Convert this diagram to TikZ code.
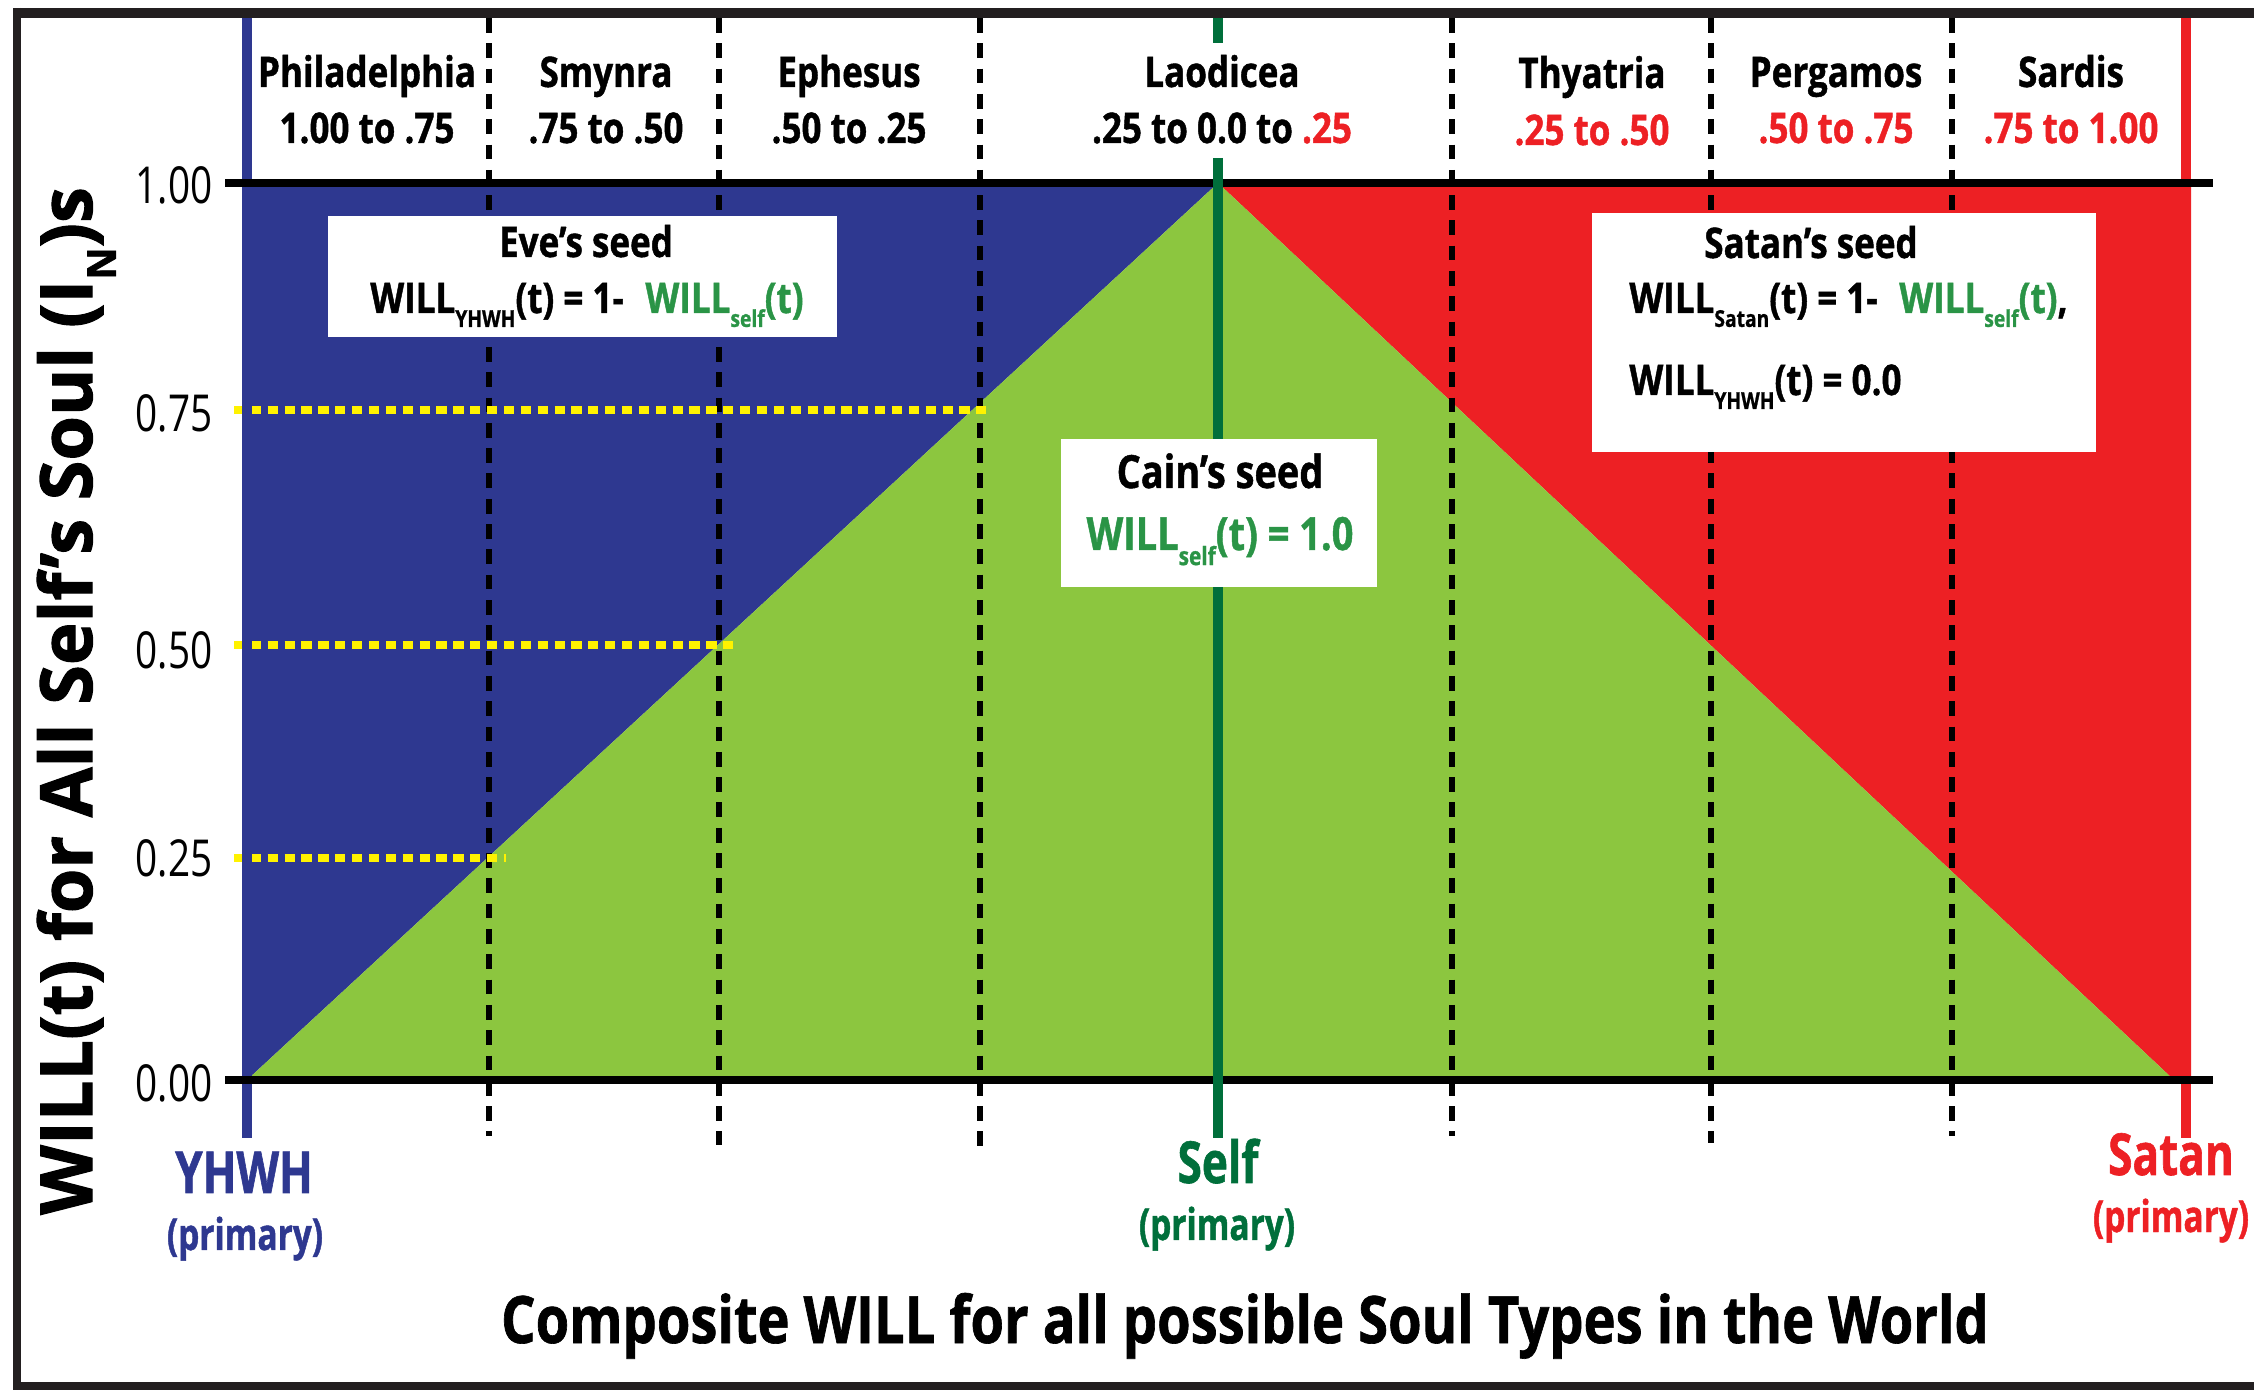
\documentclass[tikz,border=0pt]{standalone}
\usepackage{fontspec}
\setmainfont{Open Sans}[FakeStretch=0.83, BoldFeatures={FakeBold=1}]
\newfontfamily\narrowfont{Open Sans}[FakeStretch=0.76, BoldFeatures={FakeBold=1}]
\newfontfamily\widefont{Open Sans}[BoldFeatures={FakeBold=1.5}]
\usetikzlibrary{positioning}

\definecolor{willblue}{RGB}{46,56,144}
\definecolor{willgreen}{RGB}{140,198,63}
\definecolor{willred}{RGB}{237,32,36}
\definecolor{selfgreen}{RGB}{0,111,59}
\definecolor{formgreen}{RGB}{42,148,70}
\definecolor{markyellow}{RGB}{255,242,0}
\definecolor{framegray}{RGB}{35,31,32}

\newcommand{\willsub}[1]{\raisebox{-0.33em}{\scalebox{0.55}{#1}}}

\tikzset{
  church/.style={font=\fontsize{12}{14}\selectfont\bfseries, anchor=base},
  soul/.style={font=\narrowfont\fontsize{16.5}{18}\selectfont\bfseries, anchor=base},
  primary/.style={font=\narrowfont\fontsize{12.5}{14}\selectfont\bfseries, anchor=base},
  seedbox/.style={rectangle, fill=white, inner sep=0pt},
  seedtext/.style={font=\fontsize{12}{14}\selectfont\bfseries, anchor=base},
  ticklabel/.style={font=\narrowfont\fontsize{14.5}{16}\selectfont, anchor=east, inner sep=0pt},
  churchsep/.style={line width=1.9pt, dash pattern=on 4.2pt off 3pt},
  levelmark/.style={draw=markyellow, line width=2.1pt, dash pattern=on 2.9pt off 1.9pt},
  soulline/.style={line width=2.8pt},
  axisline/.style={line width=2pt}
}

\begin{document}
\begin{tikzpicture}

\useasboundingbox (0,0) rectangle (22.54,13.91);

% corner points of the chart
\coordinate (yhwh1) at (2.42,12.08);
\coordinate (yhwh0) at (2.47,3.11);
\coordinate (apex) at (12.18,12.08);
\coordinate (satan1) at (21.91,12.08);
\coordinate (satan0) at (21.91,3.11);
\coordinate (tip) at (21.74,3.11);

% coloured regions
\fill[willblue] (yhwh1) -- (apex) -- (yhwh0) -- (2.42,3.11) -- cycle;
\fill[willred] (apex) -- (satan1) -- (satan0) -- (tip) -- cycle;
\fill[willgreen] (yhwh0) -- (apex) -- (tip) -- cycle;

% church borders
\draw[churchsep] (4.89,13.73) -- (4.89,2.55);
\draw[churchsep] (7.19,13.73) -- (7.19,2.46);
\draw[churchsep] (9.80,13.73) -- (9.80,2.41);
\draw[churchsep] (14.52,13.73) -- (14.52,2.55);
\draw[churchsep] (17.11,13.73) -- (17.11,2.48);
\draw[churchsep] (19.52,13.73) -- (19.52,2.55);

% levels
\draw[levelmark] (2.34,9.81) -- (9.89,9.81);
\draw[levelmark] (2.34,7.46) -- (7.36,7.46);
\draw[levelmark] (2.34,5.33) -- (5.06,5.33);

% YHWH and Satan lines
\draw[soulline, willblue] (2.47,13.73) -- (2.47,2.53);
\draw[soulline, willred] (21.86,13.73) -- (21.86,2.53);

% axes
\draw[axisline] (2.25,12.08) -- (22.13,12.08);
\draw[axisline] (2.25,3.11) -- (22.13,3.11);

% Self line
\draw[soulline, selfgreen, line width=2.6pt] (12.18,13.73) -- (12.18,13.48);
\draw[soulline, selfgreen, line width=2.6pt] (12.18,12.33) -- (12.18,2.53);

% tick labels
\node[ticklabel] (t100) at (2.13,12.06) {1.00};
\node[ticklabel] (t075) at (2.13,9.78) {0.75};
\node[ticklabel] (t050) at (2.13,7.41) {0.50};
\node[ticklabel] (t025) at (2.13,5.33) {0.25};
\node[ticklabel] (t000) at (2.13,3.08) {0.00};

% churches
\node[church] (phil) at (3.67,13.04) {Philadelphia};
\node[church] (philr) at (3.67,12.48) {1.00 to .75};
\node[church] (smyr) at (6.06,13.04) {Smynra};
\node[church] (smyrr) at (6.06,12.48) {.75 to .50};
\node[church] (ephe) at (8.49,13.04) {Ephesus};
\node[church] (epher) at (8.49,12.48) {.50 to .25};
\node[church] (laod) at (12.22,13.04) {Laodicea};
\node[church] (laodr) at (12.22,12.48) {.25 to 0.0 to \textcolor{willred}{.25}};
\node[church] (thya) at (15.92,13.03) {Thyatria};
\node[church, willred] (thyar) at (15.92,12.46) {.25 to .50};
\node[church] (perg) at (18.36,13.04) {Pergamos};
\node[church, willred] (pergr) at (18.36,12.48) {.50 to .75};
\node[church] (sard) at (20.71,13.04) {Sardis};
\node[church, willred] (sardr) at (20.71,12.48) {.75 to 1.00};

% Eve's seed
\node[seedbox, minimum width=5.09cm, minimum height=1.21cm] (evebox) at (5.82,11.14) {};
\node[seedtext] (evetitle) at (5.86,11.34) {Eve’s seed};
\node[seedtext] (eveform) at (5.87,10.78)
  {WILL\willsub{YHWH}(t) = 1-\hspace{0.3em} \textcolor{formgreen}{WILL\willsub{self}(t)}};

% Cain's seed
\node[seedbox, minimum width=3.16cm, minimum height=1.48cm] (cainbox) at (12.19,8.78) {};
\node[seedtext, font=\fontsize{13}{15}\selectfont\bfseries] (caintitle) at (12.20,9.03) {Cain’s seed};
\node[seedtext, font=\fontsize{13}{15}\selectfont\bfseries, formgreen] (cainform) at (12.20,8.41)
  {WILL\willsub{self}(t) = 1.0};

% Satan's seed
\node[seedbox, minimum width=5.04cm, minimum height=2.39cm] (satanbox) at (18.44,10.585) {};
\node[seedtext] (satantitle) at (18.11,11.33) {Satan’s seed};
\node[seedtext, anchor=base west] (satanform) at (16.17,10.78)
  {WILL\willsub{Satan}(t) = 1-\hspace{0.3em} \textcolor{formgreen}{WILL\willsub{self}(t)},};
\node[seedtext, anchor=base west] (yhwhzero) at (16.17,9.96) {WILL\willsub{YHWH}(t) = 0.0};

% souls
\node[soul, willblue] (yhwh) at (2.44,1.98) {YHWH};
\node[primary, willblue] (yhwhp) at (2.45,1.41) {(primary)};
\node[soul, selfgreen] (self) at (12.18,2.08) {Self};
\node[primary, selfgreen] (selfp) at (12.17,1.51) {(primary)};
\node[soul, willred] (satan) at (21.71,2.16) {Satan};
\node[primary, willred] (satanp) at (21.71,1.59) {(primary)};

% axis titles
\node[church, font=\fontsize{18.6}{21}\selectfont\bfseries] (xtitle) at (12.45,0.48)
  {Composite WILL for all possible Soul Types in the World};
\node[anchor=base, rotate=90, font=\widefont\fontsize{20.5}{22}\selectfont\bfseries] (ytitle) at (0.92,6.90)
  {WILL(t) for All Self’s Soul (I\willsub{N})s};

% frame
\draw[framegray, line width=0.10cm] (22.54,13.78) -- (0.13,13.78);
\draw[framegray, line width=0.08cm] (0.17,13.83) -- (0.17,0.01);
\draw[framegray, line width=0.08cm] (0.13,0.05) -- (22.54,0.05);

\end{tikzpicture}
\end{document}
